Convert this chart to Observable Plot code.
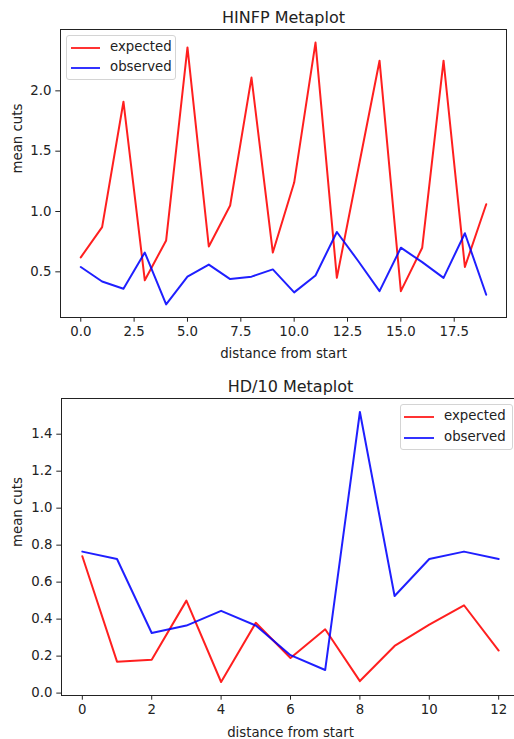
<!DOCTYPE html>
<html>
<head>
<meta charset="utf-8">
<script src="https://cdn.jsdelivr.net/npm/d3@7"></script>
<script src="https://cdn.jsdelivr.net/npm/@observablehq/plot@0.6"></script>
<style>
  html, body { margin: 0; padding: 0; background: #fff; overflow: hidden; }
  #wrap { position: relative; width: 514px; height: 739px; overflow: hidden; font-family: "DejaVu Sans", sans-serif; }
  .chart { position: absolute; left: 0; max-width: none !important; }
  .legend { position: absolute; background: rgba(255,255,255,0.8); border: 1px solid #d4d4d4; border-radius: 3px; box-sizing: border-box; font-size: 13.3px; color: #222; }
  .legend .sw { position: absolute; height: 2px; }
  .legend .lab { position: absolute; line-height: 16px; white-space: nowrap; }
</style>
</head>
<body>
<div id="wrap"></div>
<script>
// ---- data ----
const seriesNames = ["expected", "observed"];
const seriesColors = ["#ff0000", "#0000ff"];

const hinfpTitle = "HINFP Metaplot";
const hinfpPos = [0, 1, 2, 3, 4, 5, 6, 7, 8, 9, 10, 11, 12, 13, 14, 15, 16, 17, 18, 19];
const hinfpExpected = [0.62, 0.87, 1.91, 0.43, 0.76, 2.36, 0.71, 1.05, 2.11, 0.66, 1.24, 2.40, 0.45, 1.35, 2.25, 0.34, 0.70, 2.25, 0.54, 1.06];
const hinfpObserved = [0.54, 0.42, 0.36, 0.66, 0.23, 0.46, 0.56, 0.44, 0.46, 0.52, 0.33, 0.47, 0.83, 0.59, 0.34, 0.70, 0.58, 0.45, 0.82, 0.31];
const hinfpXTicks = [0, 2.5, 5, 7.5, 10, 12.5, 15, 17.5];
const hinfpYTicks = [0.5, 1.0, 1.5, 2.0];

const hd10Title = "HD/10 Metaplot";
const hd10Pos = [0, 1, 2, 3, 4, 5, 6, 7, 8, 9, 10, 11, 12];
const hd10Expected = [0.74, 0.17, 0.18, 0.50, 0.06, 0.38, 0.19, 0.345, 0.065, 0.255, 0.37, 0.475, 0.23];
const hd10Observed = [0.765, 0.725, 0.325, 0.365, 0.445, 0.365, 0.205, 0.125, 1.52, 0.525, 0.725, 0.765, 0.725];
const hd10XTicks = [0, 2, 4, 6, 8, 10, 12];
const hd10YTicks = [0.0, 0.2, 0.4, 0.6, 0.8, 1.0, 1.2, 1.4];

const xLabel = "distance from start";
const yLabel = "mean cuts";

// ---- helpers ----
function padded(vals) {
  const lo = d3.min(vals), hi = d3.max(vals), p = (hi - lo) * 0.05;
  return [lo - p, hi + p];
}
function rows(pos, exp, obs) {
  return [
    ...pos.map((x, i) => ({x, y: exp[i], s: seriesNames[0]})),
    ...pos.map((x, i) => ({x, y: obs[i], s: seriesNames[1]}))
  ];
}
function makeChart(cfg) {
  const data = rows(cfg.pos, cfg.exp, cfg.obs);
  return Plot.plot({
    width: cfg.width, height: cfg.height,
    marginTop: cfg.mt, marginBottom: cfg.mb, marginLeft: cfg.ml, marginRight: cfg.mr,
    style: {fontFamily: "DejaVu Sans", fontSize: "13.3px", color: "#222", background: "transparent", maxWidth: "none"},
    x: {domain: padded(cfg.pos)},
    y: {domain: padded([...cfg.exp, ...cfg.obs])},
    color: {domain: seriesNames, range: seriesColors},
    marks: [
      Plot.line(data.filter(d => d.s === seriesNames[0]), {x: "x", y: "y", stroke: "s", strokeWidth: 2, strokeOpacity: 0.88}),
      Plot.line(data.filter(d => d.s === seriesNames[1]), {x: "x", y: "y", stroke: "s", strokeWidth: 2, strokeOpacity: 0.88}),
      Plot.frame({stroke: "#222", strokeWidth: 1}),
      Plot.axisX({ticks: cfg.xTicks, tickFormat: cfg.xFmt, tickSize: 4.7, tickPadding: 4.3, label: null, fontSize: 13.3, stroke: "#222"}),
      Plot.axisY({ticks: cfg.yTicks, tickFormat: d3.format(".1f"), tickSize: 4.7, tickPadding: 4.3, label: null, fontSize: 13.3, stroke: "#222"}),
      Plot.text([cfg.title], {frameAnchor: "top", text: d => d, lineAnchor: "bottom", dy: -7, fontSize: 16, fill: "#222"}),
      Plot.text([xLabel], {frameAnchor: "bottom", text: d => d, lineAnchor: "bottom", dy: cfg.xlDy, fontSize: 13.3, fill: "#222"}),
      Plot.text([yLabel], {frameAnchor: "left", text: d => d, lineAnchor: "bottom", rotate: -90, dx: cfg.ylDx, fontSize: 13.3, fill: "#222"})
    ]
  });
}
function makeLegend(left, top, w, h, lineL, lineW, textL, rowYs) {
  const lg = document.createElement("div");
  lg.className = "legend";
  Object.assign(lg.style, {left: left + "px", top: top + "px", width: w + "px", height: h + "px"});
  seriesNames.forEach((name, i) => {
    const sw = document.createElement("div");
    sw.className = "sw";
    Object.assign(sw.style, {left: lineL + "px", width: lineW + "px", top: (rowYs[i] - 1) + "px", background: seriesColors[i], opacity: 0.8});
    const lab = document.createElement("div");
    lab.className = "lab";
    lab.textContent = name;
    Object.assign(lab.style, {left: textL + "px", top: (rowYs[i] - 9) + "px"});
    lg.appendChild(sw); lg.appendChild(lab);
  });
  return lg;
}

const wrap = document.getElementById("wrap");

const c1 = makeChart({
  title: hinfpTitle, pos: hinfpPos, exp: hinfpExpected, obs: hinfpObserved,
  xTicks: hinfpXTicks, yTicks: hinfpYTicks, xFmt: d3.format(".1f"),
  width: 514, height: 370, mt: 29, mb: 53, ml: 60, mr: 8, xlDy: 40, ylDx: -38.5
});
c1.classList.add("chart");
c1.style.top = "0px";
c1.style.maxWidth = "none";
wrap.appendChild(c1);

const c2 = makeChart({
  title: hd10Title, pos: hd10Pos, exp: hd10Expected, obs: hd10Observed,
  xTicks: hd10XTicks, yTicks: hd10YTicks, xFmt: d3.format("d"),
  width: 520, height: 369, mt: 28, mb: 44, ml: 61, mr: 1, xlDy: 41, ylDx: -39.5
});
c2.classList.add("chart");
c2.style.top = "370px";
c2.style.maxWidth = "none";
wrap.appendChild(c2);

// legends (positions relative to wrap)
wrap.appendChild(makeLegend(66, 35, 110, 45, 3.5, 29, 43, [12, 31.5]));
wrap.appendChild(makeLegend(400, 404, 113, 46, 3, 30, 43, [11.5, 32.5]));
</script>
</body>
</html>
